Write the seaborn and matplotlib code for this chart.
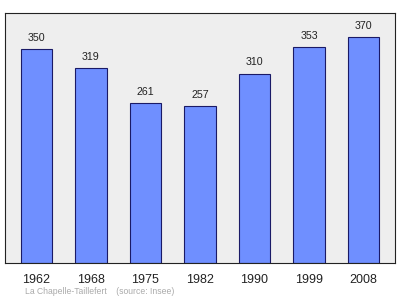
import matplotlib
matplotlib.use("Agg")
import matplotlib.pyplot as plt
import seaborn as sns
import pandas as pd

years = ["1962", "1968", "1975", "1982", "1990", "1999", "2008"]
population = [350, 319, 261, 257, 310, 353, 370]
source_text = "La Chapelle-Taillefert    (source: Insee)"

sns.set_style("white")
plt.rcParams["font.family"] = ["Liberation Sans", "DejaVu Sans"]

df = pd.DataFrame({"year": years, "pop": population})

fig = plt.figure(figsize=(4.0, 2.99), dpi=100)
ax = fig.add_axes([5/400, 36/299, 390/400, 250/299])
ax.set_facecolor("#eeeeee")

sns.barplot(data=df, x="year", y="pop", color="#6f8fff", saturation=1,
            edgecolor="#1a1a66", linewidth=0.8, width=0.57, ax=ax)

for c in ax.containers:
    ax.bar_label(c, labels=[str(v) for v in population], padding=4.5,
                 fontsize=7.7, color="#222222")

ax.set_xlim(-0.577, 6.577)
ax.set_ylim(0, 409)
ax.set_yticks([])
ax.set_xlabel("")
ax.set_ylabel("")
ax.tick_params(axis="x", length=0, pad=8, labelsize=9, labelcolor="#222222")
for s in ax.spines.values():
    s.set_visible(True)
    s.set_color("#222222")
    s.set_linewidth(0.8)

fig.text(25/400, 1 - 292/299, source_text, fontsize=6.2, color="#aaaaaa",
         ha="left", va="center")

fig.savefig("out.png", dpi=100, facecolor="white")
